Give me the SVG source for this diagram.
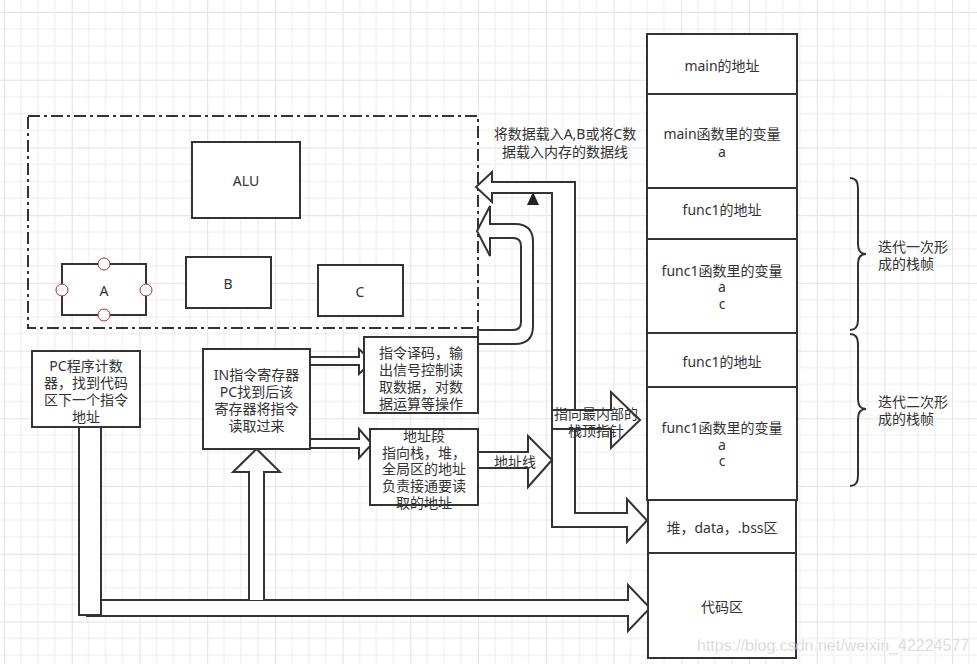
<svg xmlns="http://www.w3.org/2000/svg" width="977" height="664" viewBox="0 0 977 664">
<defs>
<pattern id="grid" width="67.72" height="67.72" patternUnits="userSpaceOnUse" x="4" y="12">
<path d="M16.93 0V67.72M33.86 0V67.72M50.79 0V67.72M0 16.93H67.72M0 33.86H67.72M0 50.79H67.72" stroke="#eeeeee" stroke-width="1" fill="none"/>
<path d="M0.5 0V67.72M0 0.5H67.72" stroke="#e3e3e3" stroke-width="1" fill="none"/>
</pattern>
<style>
.box{fill:#fff;stroke:#333;stroke-width:2}
.arr{fill:#fff;stroke:#333;stroke-width:2;stroke-linejoin:miter}
.t{font-family:"Noto Sans","Noto Sans CJK SC",sans-serif;font-size:14px;fill:#333;text-anchor:middle;dominant-baseline:central}
.tl{font-family:"Noto Sans","Noto Sans CJK SC",sans-serif;font-size:14px;fill:#333;text-anchor:start;dominant-baseline:central}
.brace{fill:none;stroke:#333;stroke-width:2}
.pt{fill:#fff;stroke:#a33;stroke-width:1}
</style>
</defs>
<rect width="977" height="664" fill="#fff"/>
<rect width="977" height="664" fill="url(#grid)"/>

<g id="cpu">
<rect x="28" y="116" width="450" height="212" fill="none" stroke="#333" stroke-width="2" stroke-dasharray="12 4 3 4"/>
</g>
<g id="alu"><rect class="box" x="192" y="142" width="108" height="76"/><text class="t" x="246" y="180">ALU</text></g>
<g id="regA"><rect class="box" x="62" y="264" width="84" height="51"/><text class="t" x="104" y="290">A</text>
<circle class="pt" cx="104" cy="264" r="6"/><circle class="pt" cx="104" cy="315" r="6"/><circle class="pt" cx="62" cy="290" r="6"/><circle class="pt" cx="146" cy="290" r="6"/></g>
<g id="regB"><rect class="box" x="186" y="257" width="85" height="51"/><text class="t" x="228" y="283">B</text></g>
<g id="regC"><rect class="box" x="318" y="265" width="85" height="51"/><text class="t" x="360" y="291">C</text></g>

<g id="connectors">
<path class="arr" d="M478 344 L515 344 Q533 344 533 326 L533 242 Q533 224 515 224 L490 224 L490 206 L477 231 L490 256 L490 238 L513 238 Q521 238 521 246 L521 322 Q521 330 513 330 L478 330 Z"/>
<path class="arr" d="M552 527 L552 193 L492 193 L492 202 L476 187 L492 172 L492 182 L575 182 L575 513 L627 513 L627 499 L647 520.5 L627 542 L627 527 Z"/>
<polygon points="533,192 527,205 539,205" fill="#222"/>
<path class="arr" d="M552 410 L611 410 L611 392 L640 420 L611 448 L611 429 L552 429 Z"/>
<path class="arr" d="M478 452 L528 452 L528 436 L552 460 L528 487 L528 468 L478 468 Z"/>
<path class="arr" d="M308 357 L359 357 L359 349 L372 361.5 L359 374 L359 365 L308 365 Z"/>
<path class="arr" d="M308 439 L359 439 L359 429 L372 444 L359 458 L359 448 L308 448 Z"/>
<path class="arr" d="M87 600 L628 600 L628 585 L650 608 L628 631 L628 616 L87 616 Z"/>
<path class="arr" d="M249 600 L249 472 L233 472 L256.5 449 L280 472 L264 472 L264 600"/>
<rect class="box" x="79" y="427" width="22" height="188"/>
<text class="t" x="565" y="133">将数据载入A,B或将C数</text>
<text class="t" x="565" y="151">据载入内存的数据线</text>
<text class="t" x="515" y="461">地址线</text>
<text class="t" x="596" y="413">指向最内部的</text>
<text class="t" x="596" y="430">栈顶指针</text>
</g>

<g id="pc"><rect class="box" x="32" y="351" width="108" height="76"/>
<text class="t" x="86" y="365">PC程序计数</text><text class="t" x="86" y="382">器，找到代码</text><text class="t" x="86" y="399">区下一个指令</text><text class="t" x="86" y="416">地址</text></g>
<g id="ir"><rect class="box" x="203" y="349" width="107" height="100"/>
<text class="t" x="256.5" y="374">IN指令寄存器</text><text class="t" x="256.5" y="391">PC找到后该</text><text class="t" x="256.5" y="408">寄存器将指令</text><text class="t" x="256.5" y="425">读取过来</text></g>
<g id="decode"><rect class="box" x="364" y="337" width="114" height="76"/>
<text class="t" x="421" y="352">指令译码，输</text><text class="t" x="421" y="369">出信号控制读</text><text class="t" x="421" y="386">取数据，对数</text><text class="t" x="421" y="403">据运算等操作</text></g>
<g id="addr"><rect class="box" x="370" y="429" width="108" height="76"/>
<text class="t" x="424" y="435">地址段</text><text class="t" x="424" y="452">指向栈，堆，</text><text class="t" x="424" y="468">全局区的地址</text><text class="t" x="424" y="485">负责接通要读</text><text class="t" x="424" y="502">取的地址</text></g>

<g id="stack">
<g id="s-main-addr"><rect class="box" x="647" y="34" width="150" height="60"/><text class="t" x="722" y="65">main的地址</text></g>
<g id="s-main-var"><rect class="box" x="647" y="94" width="150" height="94"/><text class="t" x="722" y="133">main函数里的变量</text><text class="t" x="722" y="151">a</text></g>
<g id="s-f1-addr"><rect class="box" x="647" y="188" width="150" height="51"/><text class="t" x="722" y="209">func1的地址</text></g>
<g id="s-f1-var"><rect class="box" x="647" y="239" width="150" height="94"/><text class="t" x="722" y="270">func1函数里的变量</text><text class="t" x="722" y="286">a</text><text class="t" x="722" y="303">c</text></g>
<g id="s-f2-addr"><rect class="box" x="647" y="333" width="150" height="54"/><text class="t" x="722" y="361">func1的地址</text></g>
<g id="s-f2-var"><rect class="box" x="647" y="387" width="150" height="113"/><text class="t" x="722" y="427">func1函数里的变量</text><text class="t" x="722" y="444">a</text><text class="t" x="722" y="460">c</text></g>
<g id="s-heap"><rect class="box" x="648" y="500" width="148" height="53"/><text class="t" x="722" y="527">堆，data，.bss区</text></g>
<g id="s-code"><rect class="box" x="648" y="553" width="148" height="105"/><text class="t" x="722" y="606">代码区</text></g>
</g>

<g id="brace1"><path class="brace" d="M850 178 Q858 178 858 188 L858 244 Q858 254 866 254 Q858 254 858 264 L858 320 Q858 330 850 330"/>
<text class="tl" x="878" y="246">迭代一次形</text><text class="tl" x="878" y="263">成的栈帧</text></g>
<g id="brace2"><path class="brace" d="M850 334 Q858 334 858 344 L858 399 Q858 409 866 409 Q858 409 858 419 L858 476 Q858 486 850 486"/>
<text class="tl" x="878" y="401">迭代二次形</text><text class="tl" x="878" y="418">成的栈帧</text></g>

<text x="697" y="651" font-family="Liberation Sans, sans-serif" font-size="16" fill="#cfcfcf" stroke="#fff" stroke-width="0.3">https://blog.csdn.net/weixin_42224577</text>
</svg>
